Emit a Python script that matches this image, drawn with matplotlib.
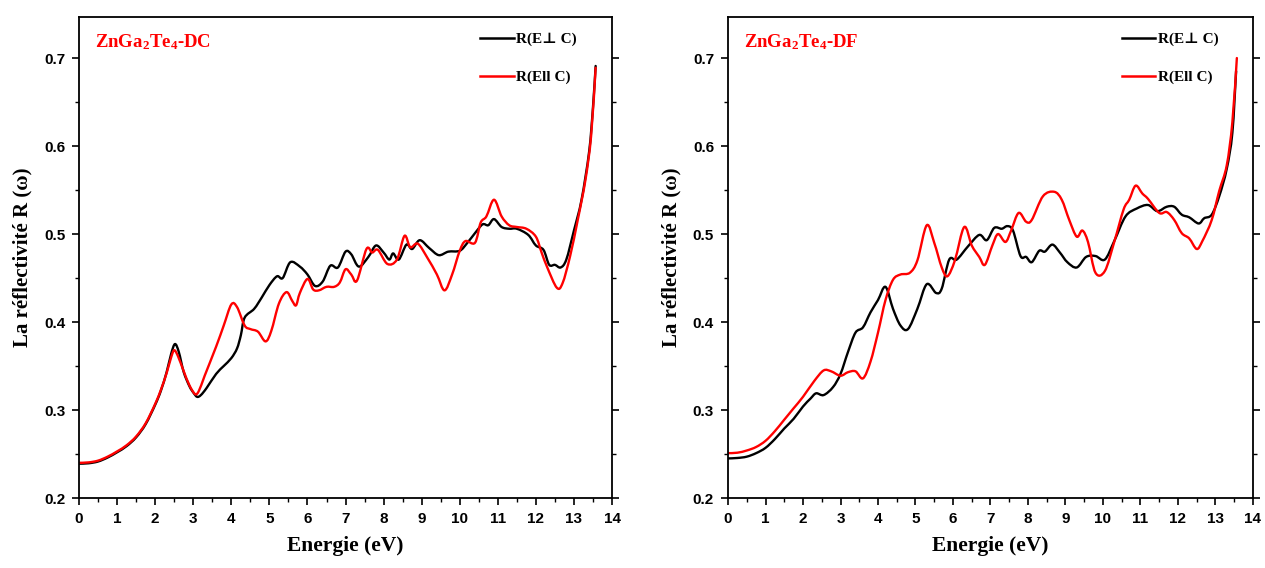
import matplotlib
matplotlib.use("Agg")
import matplotlib.pyplot as plt
from matplotlib.ticker import MultipleLocator, FormatStrFormatter
from matplotlib.lines import Line2D
from matplotlib.path import Path
from matplotlib.patches import PathPatch

# ---- ZnGa2Te4, DC reflectivity ----
dc_perp_E = [0.0, 0.25, 0.5, 0.75, 1.0, 1.25, 1.5, 1.75, 2.0, 2.15, 2.3, 2.42, 2.52,
             2.62, 2.75, 2.9, 3.0, 3.1, 3.2, 3.35, 3.6, 3.8, 4.0, 4.15, 4.25, 4.35,
             4.6, 4.8, 5.0, 5.2, 5.35, 5.55, 5.8, 6.0, 6.2, 6.4, 6.6, 6.8, 7.0,
             7.15, 7.35, 7.6, 7.8, 8.0, 8.15, 8.25, 8.4, 8.6, 8.75, 8.95, 9.2,
             9.45, 9.7, 10.0, 10.2, 10.4, 10.6, 10.75, 10.9, 11.1, 11.3, 11.5,
             11.8, 12.0, 12.2, 12.35, 12.5, 12.65, 12.8, 13.0, 13.2, 13.4, 13.5,
             13.57]
dc_perp_R = [0.239, 0.2395, 0.2415, 0.246, 0.252, 0.259, 0.269, 0.284, 0.306, 0.322,
             0.343, 0.364, 0.375, 0.366, 0.343, 0.327, 0.320, 0.315, 0.317, 0.325,
             0.341, 0.350, 0.359, 0.370, 0.385, 0.405, 0.415, 0.428, 0.442, 0.452,
             0.450, 0.468, 0.463, 0.454, 0.441, 0.446, 0.464, 0.462, 0.480, 0.477,
             0.463, 0.474, 0.487, 0.479, 0.471, 0.478, 0.471, 0.488, 0.483, 0.493,
             0.484, 0.476, 0.480, 0.481, 0.490, 0.501, 0.511, 0.510, 0.517, 0.508,
             0.506, 0.506, 0.499, 0.487, 0.482, 0.465, 0.465, 0.462, 0.471, 0.504,
             0.539, 0.594, 0.644, 0.691]

dc_par_E = [0.0, 0.25, 0.5, 0.75, 1.0, 1.25, 1.5, 1.75, 2.0, 2.15, 2.3, 2.42, 2.5,
            2.6, 2.75, 2.9, 3.05, 3.15, 3.3, 3.6, 3.8, 4.0, 4.15, 4.35, 4.5, 4.7,
            4.9, 5.05, 5.25, 5.45, 5.6, 5.7, 5.8, 6.0, 6.15, 6.3, 6.5, 6.7, 6.85,
            7.0, 7.15, 7.3, 7.55, 7.7, 7.85, 8.1, 8.35, 8.55, 8.7, 8.9, 9.15, 9.4,
            9.6, 9.8, 10.0, 10.15, 10.4, 10.55, 10.7, 10.9, 11.1, 11.3, 11.5,
            11.75, 12.0, 12.15, 12.3, 12.55, 12.7, 12.9, 13.1, 13.3, 13.45, 13.57]
dc_par_R = [0.240, 0.2405, 0.2425, 0.247, 0.253, 0.260, 0.270, 0.285, 0.307, 0.323,
            0.342, 0.360, 0.368, 0.361, 0.344, 0.328, 0.318, 0.322, 0.339, 0.372,
            0.396, 0.420, 0.417, 0.396, 0.392, 0.389, 0.378, 0.390, 0.421, 0.434,
            0.424, 0.419, 0.433, 0.449, 0.437, 0.436, 0.440, 0.440, 0.445, 0.460,
            0.454, 0.447, 0.483, 0.479, 0.482, 0.466, 0.471, 0.498, 0.485, 0.489,
            0.473, 0.454, 0.436, 0.454, 0.481, 0.492, 0.490, 0.513, 0.520, 0.539,
            0.520, 0.510, 0.508, 0.506, 0.497, 0.479, 0.462, 0.439, 0.444, 0.475,
            0.516, 0.561, 0.611, 0.689]

# ---- ZnGa2Te4, DF reflectivity ----
df_perp_E = [0.0, 0.25, 0.5, 0.75, 1.0, 1.25, 1.5, 1.75, 2.0, 2.2, 2.35, 2.55, 2.8,
             3.0, 3.2, 3.4, 3.6, 3.8, 4.0, 4.2, 4.4, 4.6, 4.8, 5.05, 5.3, 5.55,
             5.7, 5.9, 6.1, 6.4, 6.7, 6.9, 7.1, 7.3, 7.45, 7.6, 7.8, 7.95, 8.1,
             8.3, 8.45, 8.65, 8.85, 9.05, 9.3, 9.55, 9.8, 10.05, 10.3, 10.6, 10.9,
             11.2, 11.45, 11.7, 11.9, 12.1, 12.3, 12.55, 12.7, 12.9, 13.1, 13.3,
             13.45, 13.55]
df_perp_R = [0.245, 0.2455, 0.247, 0.251, 0.257, 0.267, 0.279, 0.290, 0.304, 0.313,
             0.319, 0.317, 0.326, 0.341, 0.366, 0.388, 0.394, 0.411, 0.425, 0.440,
             0.415, 0.396, 0.392, 0.415, 0.443, 0.433, 0.438, 0.471, 0.471, 0.486,
             0.499, 0.493, 0.507, 0.506, 0.509, 0.504, 0.475, 0.474, 0.468, 0.481,
             0.480, 0.488, 0.479, 0.468, 0.462, 0.474, 0.475, 0.471, 0.492, 0.520,
             0.529, 0.533, 0.526, 0.531, 0.531, 0.522, 0.519, 0.512, 0.518, 0.522,
             0.543, 0.574, 0.615, 0.685]

df_par_E = [0.0, 0.25, 0.5, 0.75, 1.0, 1.25, 1.5, 1.75, 2.0, 2.3, 2.55, 2.75, 3.0,
            3.2, 3.4, 3.6, 3.8, 4.0, 4.2, 4.4, 4.6, 4.85, 5.05, 5.3, 5.5, 5.7,
            5.85, 6.05, 6.3, 6.5, 6.7, 6.85, 7.05, 7.2, 7.4, 7.55, 7.75, 7.95, 8.1,
            8.4, 8.7, 8.9, 9.1, 9.3, 9.45, 9.6, 9.8, 10.05, 10.3, 10.55, 10.7,
            10.87, 11.05, 11.2, 11.5, 11.7, 11.9, 12.1, 12.3, 12.5, 12.65, 12.9,
            13.1, 13.3, 13.45, 13.57]
df_par_R = [0.251, 0.2515, 0.254, 0.258, 0.265, 0.276, 0.289, 0.302, 0.315, 0.333,
            0.345, 0.344, 0.339, 0.343, 0.344, 0.336, 0.355, 0.388, 0.425, 0.448,
            0.454, 0.456, 0.470, 0.510, 0.490, 0.462, 0.452, 0.470, 0.508, 0.487,
            0.474, 0.465, 0.487, 0.500, 0.491, 0.504, 0.524, 0.514, 0.516, 0.543,
            0.548, 0.539, 0.516, 0.497, 0.504, 0.491, 0.456, 0.458, 0.491, 0.528,
            0.539, 0.555, 0.546, 0.540, 0.524, 0.525, 0.516, 0.501, 0.495, 0.483,
            0.492, 0.516, 0.549, 0.578, 0.627, 0.700]

x_ticks = list(range(0, 15))
y_ticks = [0.2, 0.3, 0.4, 0.5, 0.6, 0.7]
label_perp = "R(E\u22a5 C)"
label_par = "R(Ell C)"

SERIF = ["Liberation Serif", "DejaVu Serif"]
SANS = ["Liberation Sans", "DejaVu Sans"]


def smooth_curve(ax, xs, ys, color, lw):
    """Draw the measured points joined by a Catmull-Rom Bezier path."""
    n = len(xs)
    verts = [(xs[0], ys[0])]
    codes = [Path.MOVETO]
    for i in range(n - 1):
        x0, y0 = (xs[i - 1], ys[i - 1]) if i > 0 else (xs[i], ys[i])
        x1, y1 = xs[i], ys[i]
        x2, y2 = xs[i + 1], ys[i + 1]
        x3, y3 = (xs[i + 2], ys[i + 2]) if i + 2 < n else (x2, y2)
        c1 = (x1 + (x2 - x0) / 6.0, y1 + (y2 - y0) / 6.0)
        c2 = (x2 - (x3 - x1) / 6.0, y2 - (y3 - y1) / 6.0)
        verts += [c1, c2, (x2, y2)]
        codes += [Path.CURVE4] * 3
    ax.add_patch(PathPatch(Path(verts, codes), fill=False, edgecolor=color,
                           lw=lw, joinstyle="round", capstyle="round"))


fig = plt.figure(figsize=(12.65, 5.68), dpi=100)

panels = [
    dict(rect=[0.0625, 0.1232, 0.4213, 0.8468], name="DC",
         perp=(dc_perp_E, dc_perp_R), par=(dc_par_E, dc_par_R)),
    dict(rect=[0.5755, 0.1232, 0.4150, 0.8468], name="DF",
         perp=(df_perp_E, df_perp_R), par=(df_par_E, df_par_R)),
]

for p in panels:
    ax = fig.add_axes(p["rect"])
    smooth_curve(ax, *p["perp"], color="black", lw=1.7)
    smooth_curve(ax, *p["par"], color="#ff0000", lw=1.7)
    ax.set_xlim(0, 14)
    ax.set_ylim(0.2, 0.7466)
    ax.set_xticks(x_ticks)
    ax.set_yticks(y_ticks)
    ax.xaxis.set_minor_locator(MultipleLocator(0.5))
    ax.yaxis.set_minor_locator(MultipleLocator(0.05))
    ax.yaxis.set_major_formatter(FormatStrFormatter("%.1f"))
    ax.tick_params(which="major", direction="out", length=5, width=1.2,
                   right=True, top=False, pad=5)
    ax.tick_params(which="minor", direction="out", length=3, width=1.0,
                   right=True, top=False)
    for lab in ax.get_xticklabels() + ax.get_yticklabels():
        lab.set_family(SANS)
        lab.set_fontweight("bold")
        lab.set_fontsize(11)
    for s in ax.spines.values():
        s.set_linewidth(1.3)
    ax.set_xlabel("Energie (eV)", family=SERIF, fontweight="bold",
                  fontsize=15.5, labelpad=7)
    ax.set_ylabel("La r\u00e9flectivit\u00e9 R (\u03c9)", family=SERIF,
                  fontweight="bold", fontsize=15, labelpad=8)
    ax.text(0.03, 0.948,
            "ZnGa$\\mathregular{_2}$Te$\\mathregular{_4}$-" + p["name"],
            transform=ax.transAxes, color="#ff0000", family=SERIF,
            fontweight="bold", fontsize=13.5, va="center", ha="left")
    handles = [Line2D([], [], color="black", lw=1.8),
               Line2D([], [], color="#ff0000", lw=1.8)]
    ax.legend(handles, [label_perp, label_par], loc="upper right",
              frameon=False, handlelength=2.2, handletextpad=0.15,
              labelspacing=1.6, borderaxespad=0.6,
              bbox_to_anchor=(0.963, 1.0),
              prop=dict(family=SERIF, weight="bold", size=11))

fig.savefig("out.png", dpi=100)
